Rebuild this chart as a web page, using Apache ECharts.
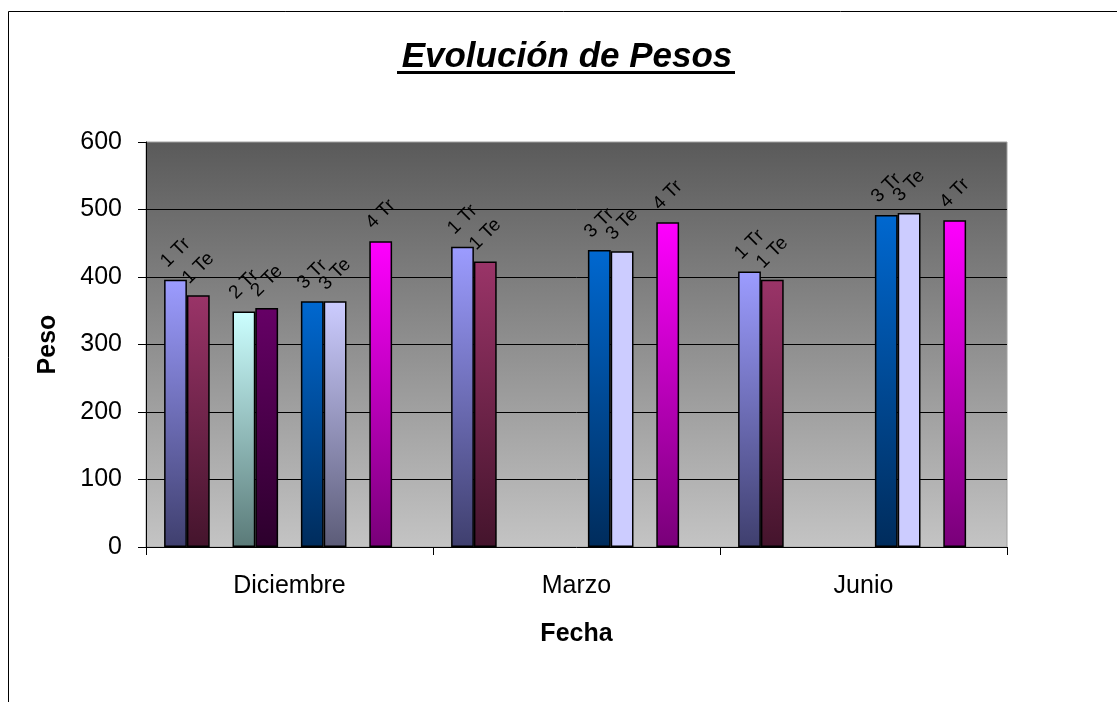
<!DOCTYPE html>
<html>
<head>
<meta charset="utf-8">
<script src="https://cdn.jsdelivr.net/npm/echarts@6/dist/echarts.min.js"></script>
<style>
html,body{margin:0;padding:0;background:#fff;}
#chart{width:1117px;height:702px;}
</style>
</head>
<body>
<div id="chart"></div>
<script>
// ---- data ----
const categories = ['Diciembre', 'Marzo', 'Junio'];
const seriesNames = ['1 Tr', '1 Te', '', '2 Tr', '2 Te', '', '3 Tr', '3 Te', '', '4 Tr', '4 Te'];
const v1Tr = [396, 445, 408];
const v1Te = [373, 423, 396];
const vGapA = [null, null, null];
const v2Tr = [349, null, null];
const v2Te = [354, null, null];
const vGapB = [null, null, null];
const v3Tr = [364, 440, 492];
const v3Te = [364, 438, 495];
const vGapC = [null, null, null];
const v4Tr = [453, 481, 484];
const v4Te = [null, null, null];
const yTicks = [0, 100, 200, 300, 400, 500, 600];

const seriesValues = [v1Tr, v1Te, vGapA, v2Tr, v2Te, vGapB, v3Tr, v3Te, vGapC, v4Tr, v4Te];

// ---- styles ----
const FONT = 'Liberation Sans, Arial, sans-serif';
const barColors = [
  ['#9c9cff', '#3f3f6e'],
  ['#9a3468', '#44142c'],
  null,
  ['#ccffff', '#5a7a78'],
  ['#660066', '#2c002c'],
  null,
  ['#0068d0', '#002c5c'],
  ['#ccccff', '#5c5c78'],
  null,
  ['#ff00ff', '#780078'],
  ['#ff00ff', '#780078']
];
// bars drawn in a flat colour instead of a gradient: [series index, category index]
const flatBars = [[7, 1, '#ccccff'], [7, 2, '#ccccff']];

function grad(c) {
  return new echarts.graphic.LinearGradient(0, 0, 0, 1, [
    {offset: 0, color: c[0]}, {offset: 1, color: c[1]}
  ]);
}

const series = seriesValues.map((vals, si) => {
  const c = barColors[si] || ['#000', '#000'];
  return {
    type: 'bar',
    name: seriesNames[si] || ('gap' + si),
    barWidth: 22.8,
    barGap: '0%',
    data: vals.map((v, ci) => {
      const f = flatBars.find(b => b[0] === si && b[1] === ci);
      if (f) return {value: v, itemStyle: {color: f[2], borderColor: '#000', borderWidth: 1.5}};
      return v;
    }),
    itemStyle: {color: grad(c), borderColor: '#000', borderWidth: 1.5},
    label: {
      show: !!seriesNames[si],
      position: 'top',
      distance: 27,
      rotate: 45,
      align: 'center',
      verticalAlign: 'middle',
      formatter: seriesNames[si] || '',
      fontFamily: FONT,
      fontSize: 19,
      color: '#000'
    },
    silent: true,
    animation: false
  };
});

const chart = echarts.init(document.getElementById('chart'), null, {renderer: 'canvas'});
chart.setOption({
  animation: false,
  backgroundColor: '#fff',
  title: {
    text: 'Evolución de Pesos',
    left: 562,
    top: 35,
    textAlign: 'center',
    textStyle: {fontFamily: FONT, fontSize: 35, fontWeight: 'bold', fontStyle: 'italic', color: '#000'}
  },
  graphic: [
    {type: 'rect', shape: {x: 8.5, y: 11.5, width: 1300, height: 900}, style: {fill: null, stroke: '#000', lineWidth: 1}, z: -1, silent: true},
    {type: 'rect', shape: {x: 397, y: 71, width: 338, height: 3}, style: {fill: '#000'}, silent: true}
  ],
  grid: {
    left: 146, right: 110, top: 142, bottom: 155,
    show: true,
    borderColor: '#a0a0a0',
    borderWidth: 1,
    backgroundColor: new echarts.graphic.LinearGradient(0, 0, 0, 1, [
      {offset: 0, color: '#5a5a5a'}, {offset: 1, color: '#c4c4c4'}
    ])
  },
  xAxis: {
    type: 'category',
    data: categories,
    name: 'Fecha',
    nameLocation: 'middle',
    nameGap: 75,
    nameTextStyle: {fontFamily: FONT, fontSize: 25, fontWeight: 'bold', color: '#000'},
    axisLine: {lineStyle: {color: '#000', width: 1}},
    axisTick: {show: true, length: 8, alignWithLabel: false, lineStyle: {color: '#000'}},
    axisLabel: {fontFamily: FONT, fontSize: 25, color: '#000', margin: 27},
    splitLine: {show: false}
  },
  yAxis: {
    type: 'value',
    min: 0, max: 600, interval: 100,
    name: 'Peso',
    nameLocation: 'middle',
    nameRotate: 90,
    nameGap: 85,
    nameTextStyle: {fontFamily: FONT, fontSize: 25, fontWeight: 'bold', color: '#000'},
    axisLine: {show: true, lineStyle: {color: '#000', width: 1}},
    axisTick: {show: true, length: 8, lineStyle: {color: '#000'}},
    axisLabel: {
      fontFamily: FONT, fontSize: 25, color: '#000', margin: 24,
      formatter: v => (yTicks.indexOf(v) >= 0 ? String(v) : '')
    },
    splitLine: {show: true, showMaxLine: false, showMinLine: false, lineStyle: {color: '#000', width: 1}}
  },
  series: series
});
</script>
</body>
</html>
